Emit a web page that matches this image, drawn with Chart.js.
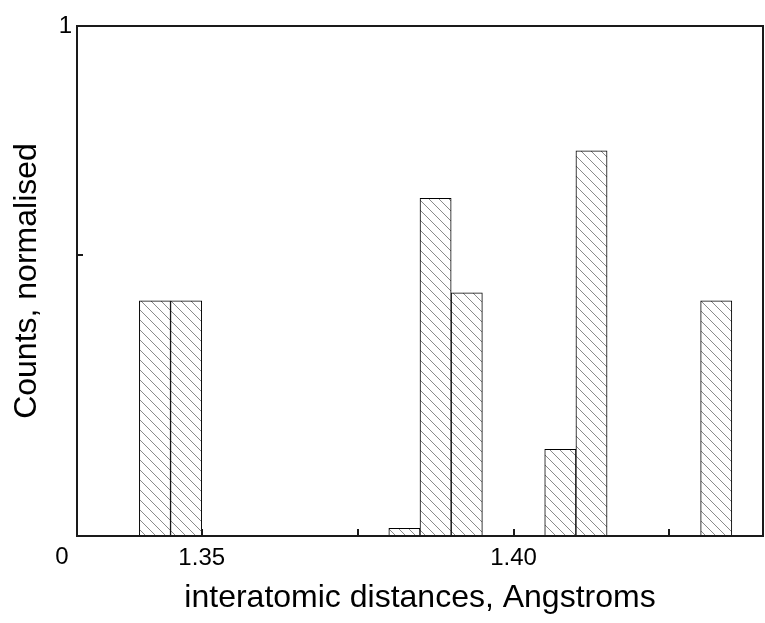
<!DOCTYPE html>
<html>
<head>
<meta charset="utf-8">
<script src="https://cdn.jsdelivr.net/npm/chart.js@4/dist/chart.umd.min.js"></script>
<style>
  html, body { margin: 0; padding: 0; background: #fff; }
</style>
</head>
<body>
<canvas id="histo" width="765" height="623"></canvas>
<script>
// ---------- DATA ----------
// Histogram bins are 0.005 A wide; each value is the bin centre.
const binCenters = [1.3425, 1.3475, 1.3825, 1.3875, 1.3925, 1.4075, 1.4125, 1.4325];
const counts     = [0.461, 0.461, 0.015, 0.662, 0.477, 0.170, 0.755, 0.461];

const xTicks = [1.35, 1.375, 1.40, 1.425];
const xTickLabels = ["1.35", "", "1.40", ""];
const yTicks = [0, 0.55, 1];
const yTickLabels = ["", "", "1"];

const FONT = "'Liberation Sans', Arial, sans-serif";

// ---------- HATCH FILL ----------
// Grey "\\\" diagonal lines on white, tiled by the canvas.
function makeHatch(ctx) {
  const tile = document.createElement("canvas");
  tile.width = 10; tile.height = 10;
  const g = tile.getContext("2d");
  g.fillStyle = "#fff";
  g.fillRect(0, 0, 10, 10);
  g.strokeStyle = "#8a8a8a";
  g.lineWidth = 1;
  g.beginPath();
  g.moveTo(0, 0); g.lineTo(10, 10);
  g.moveTo(-5, 5); g.lineTo(5, 15);
  g.moveTo(5, -5); g.lineTo(15, 5);
  g.stroke();
  return ctx.createPattern(tile, "repeat");
}

// ---------- FRAME + INWARD TICKS ----------
const frameTicks = {
  id: "frameTicks",
  afterDatasetsDraw(chart) {
    const { ctx, chartArea: a, scales: { x, y } } = chart;
    ctx.save();
    ctx.strokeStyle = "#1a1a1a";
    ctx.lineWidth = 2;
    ctx.strokeRect(a.left, a.top, a.right - a.left, a.bottom - a.top);
    ctx.beginPath();
    for (const v of xTicks) {
      const px = Math.round(x.getPixelForValue(v));
      ctx.moveTo(px, a.bottom);
      ctx.lineTo(px, a.bottom - 7);
    }
    for (const v of yTicks) {
      const py = Math.round(y.getPixelForValue(v));
      ctx.moveTo(a.left, py);
      ctx.lineTo(a.left + 6, py);
    }
    ctx.stroke();
    // the origin "0" sits in the x-label row, left of the axis
    ctx.fillStyle = "#000";
    ctx.font = "24px " + FONT;
    ctx.textAlign = "center";
    ctx.textBaseline = "middle";
    ctx.fillText("0", 62, 557);
    ctx.restore();
  }
};

const canvas = document.getElementById("histo");
const ctx = canvas.getContext("2d");

new Chart(canvas, {
  type: "bar",
  data: {
    datasets: [{
      data: binCenters.map((c, i) => ({ x: c, y: counts[i] })),
      backgroundColor: makeHatch(ctx),
      borderColor: "#000",
      borderWidth: 1,
      borderSkipped: false,
      barPercentage: 1,
      categoryPercentage: 1
    }]
  },
  options: {
    responsive: false,
    animation: false,
    devicePixelRatio: 1,
    layout: { padding: { top: 26, right: 2, left: 0, bottom: 0 } },
    plugins: { legend: { display: false }, tooltip: { enabled: false } },
    scales: {
      x: {
        type: "linear",
        min: 1.33,
        max: 1.44,
        offset: false,
        grid: { display: false, drawTicks: false },
        border: { display: false },
        afterBuildTicks: s => { s.ticks = xTicks.map(v => ({ value: v })); },
        afterFit: s => { s.height = 87; },
        ticks: {
          autoSkip: false,
          maxRotation: 0,
          padding: 8,
          color: "#000",
          font: { family: FONT, size: 24 },
          callback: (v, i) => xTickLabels[i]
        },
        title: {
          display: true,
          text: "interatomic distances, Angstroms",
          color: "#000",
          font: { family: FONT, size: 32 },
          padding: { top: 0, bottom: 6 }
        }
      },
      y: {
        min: 0,
        max: 1,
        grid: { display: false, drawTicks: false },
        border: { display: false },
        afterBuildTicks: s => { s.ticks = yTicks.map(v => ({ value: v })); },
        afterFit: s => { s.width = 77; },
        ticks: {
          autoSkip: false,
          padding: 5,
          color: "#000",
          font: { family: FONT, size: 24 },
          callback: (v, i) => yTickLabels[i]
        },
        title: {
          display: true,
          text: "Counts, normalised",
          color: "#000",
          font: { family: FONT, size: 32 },
          padding: { top: 8, bottom: 0 }
        }
      }
    }
  },
  plugins: [frameTicks]
});
</script>
</body>
</html>
